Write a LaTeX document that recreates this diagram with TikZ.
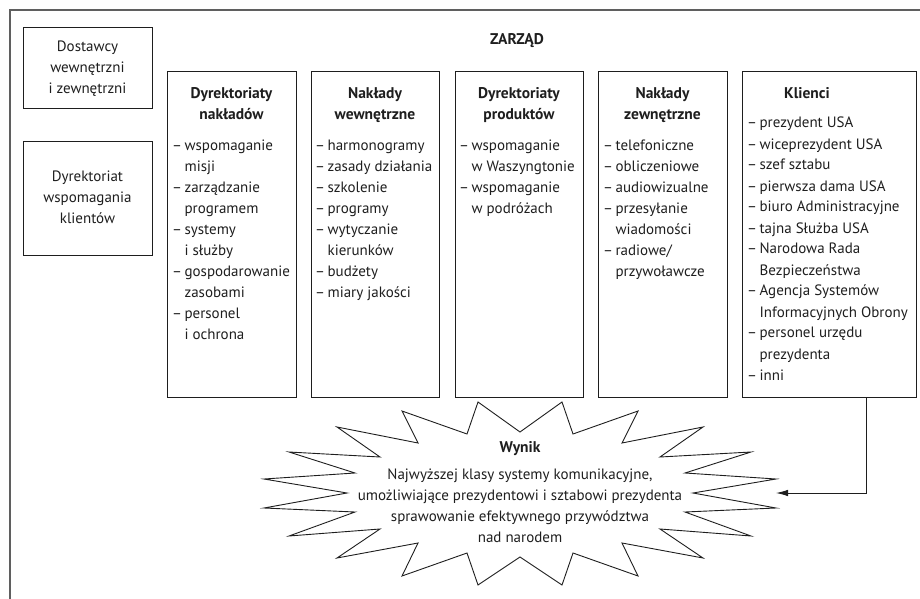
\documentclass[tikz,border=0pt]{standalone}
\usepackage{fontspec}
\setmainfont{PT Sans}
\usetikzlibrary{arrows.meta}
\definecolor{ink}{RGB}{30,30,30}
\definecolor{framec}{RGB}{95,95,95}
% one-column stacked lines, baseline on the first line
\newcommand{\stk}[1]{\begin{tabular}[t]{@{}c@{}}#1\end{tabular}}
% dash list with hanging continuation lines
\newcommand{\dlist}[1]{\begin{tabular}[t]{@{}l@{\hspace{2.5pt}}l@{}}#1\end{tabular}}
\begin{document}
\begin{tikzpicture}[x=1pt,y=-1pt,
  txt/.style={inner sep=0pt, text=ink, font=\fontsize{15}{21}\selectfont},
  head/.style={txt, anchor=base, font=\fontsize{15.5}{21}\selectfont\bfseries},
  lst/.style={txt, anchor=base west},
  box/.style={draw=ink, line width=0.9pt, inner sep=0pt},
  colbox/.style={box, minimum height=326pt},
  conn/.style={draw=ink, line width=0.9pt, -{Latex[length=12pt,width=6.5pt]}}]
\useasboundingbox (0,0) rectangle (920,599);
% outer frame, open to the right and bottom
\draw[framec, line width=1.2pt] (10,599) -- (10,10) -- (921,10);

\node[head] (zarzad) at (517,45) {ZARZĄD};

% left-hand boxes
\node[box, minimum width=129pt, minimum height=81pt] (dost) at (87.5,67.5) {};
\node[txt, anchor=base] (dostT) at (87.5,52) {\stk{Dostawcy\\wewnętrzni\\i zewnętrzni}};
\node[box, minimum width=129pt, minimum height=114pt] (dwk) at (87.5,198) {};
\node[txt, anchor=base] (dwkT) at (87.5,181.5) {\stk{Dyrektoriat\\wspomagania\\klientów}};

% columns
\node[colbox, minimum width=129pt] (c1) at (231.5,234) {};
\node[colbox, minimum width=128pt] (c2) at (375,234) {};
\node[colbox, minimum width=128pt] (c3) at (519,234) {};
\node[colbox, minimum width=129pt] (c4) at (662.5,234) {};
\node[colbox, minimum width=174pt] (c5) at (829,234) {};

\node[head] (h1) at (231.5,99) {\stk{Dyrektoriaty\\nakładów}};
\node[head] (h2) at (375,99) {\stk{Nakłady\\wewnętrzne}};
\node[head] (h3) at (519,99) {\stk{Dyrektoriaty\\produktów}};
\node[head] (h4) at (662.5,99) {\stk{Nakłady\\zewnętrzne}};
\node[head] (h5) at (807,99) {Klienci};

\node[lst] (l1) at (172,150.5) {\dlist{–&wspomaganie\\&misji\\–&zarządzanie\\&programem\\–&systemy\\&i służby\\–&gospodarowanie\\&zasobami\\–&personel\\&i ochrona}};
\node[lst] (l2) at (315,150.5) {\dlist{–&harmonogramy\\–&zasady działania\\–&szkolenie\\–&programy\\–&wytyczanie\\&kierunków\\–&budżety\\–&miary jakości}};
\node[lst] (l3) at (459,150.5) {\dlist{–&wspomaganie\\&w Waszyngtonie\\–&wspomaganie\\&w podróżach}};
\node[lst] (l4) at (603,150.5) {\dlist{–&telefoniczne\\–&obliczeniowe\\–&audiowizualne\\–&przesyłanie\\&wiadomości\\–&radiowe/\\&przywoławcze}};
\node[lst] (l5) at (747,128) {\dlist{–&prezydent USA\\–&wiceprezydent USA\\–&szef sztabu\\–&pierwsza dama USA\\–&biuro Administracyjne\\–&tajna Służba USA\\–&Narodowa Rada\\&Bezpieczeństwa\\–&Agencja Systemów\\&Informacyjnych Obrony\\–&personel urzędu\\&prezydenta\\–&inni}};

% result burst
\draw[ink, line width=0.9pt, line join=miter]
  (520,432) -- (562,402) -- (573,434) -- (638,411) -- (622,443) -- (703,427)
  -- (660,457) -- (751,452) -- (685,473) -- (776,479) -- (693,493) -- (776,508)
  -- (685,512) -- (751,536) -- (660,529) -- (703,558) -- (622,543) -- (638,576)
  -- (573,553) -- (562,585) -- (520,557) -- (478,585) -- (467,553) -- (402,576)
  -- (418,543) -- (337,558) -- (380,529) -- (289,536) -- (355,512) -- (264,508)
  -- (347,493) -- (264,479) -- (355,473) -- (289,452) -- (380,457) -- (337,427)
  -- (418,443) -- (402,411) -- (467,434) -- (478,402) -- cycle;
\node[head] (wynik) at (520,452) {Wynik};
\node[txt, anchor=base] (wynikT) at (520,479) {\stk{Najwyższej klasy systemy komunikacyjne,\\umożliwiające prezydentowi i sztabowi prezydenta\\sprawowanie efektywnego przywództwa\\nad narodem}};

\coordinate (wyn) at (776,493);
\draw[conn] ([xshift=37pt]c5.south) |- (wyn);
\end{tikzpicture}
\end{document}
